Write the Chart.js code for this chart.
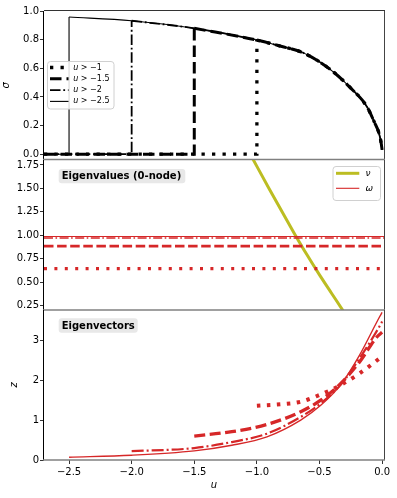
<!DOCTYPE html>
<html>
<head>
<meta charset="utf-8">
<script src="https://cdn.jsdelivr.net/npm/chart.js@4.4.1/dist/chart.umd.min.js"></script>
<style>
html,body{margin:0;padding:0;background:#fff;}
#wrap{position:relative;width:397px;height:498px;}
canvas{position:absolute;left:0;top:0;}
</style>
</head>
<body>
<div id="wrap">
<canvas id="c1" width="397" height="498"></canvas>
<canvas id="c2" width="397" height="498"></canvas>
<canvas id="c3" width="397" height="498"></canvas>
</div>
<script>
Chart.defaults.font.family='"DejaVu Sans",sans-serif';
Chart.defaults.color="#000";
const el=id=>document.getElementById(id);

const U_MIN=-2.7, U_MAX=0.015;
const THRESH=[-1,-1.5,-2,-2.5];
const LEG_TXT=["−1","−1.5","−2","−2.5"];
const X_TICKS=[-2.5,-2,-1.5,-1,-0.5,0];
const S_TICKS=[0,0.2,0.4,0.6,0.8,1];
const W_TICKS=[0.25,0.5,0.75,1,1.25,1.5,1.75];
const Z_TICKS=[0,1,2,3];

// sigma(u)
const U_S=[-2.5,-2.0,-1.5,-1.0,-0.8,-0.65,-0.5,-0.39,-0.26,-0.12,-0.06,-0.03,-0.01,0.0];
const SIGMA=[0.958,0.932,0.879,0.797,0.752,0.715,0.645,0.575,0.47,0.33,0.22,0.16,0.09,0.03];

// eigenvalues
const U_NU=[-1.1,-1.0,-0.9,-0.8,-0.7,-0.6,-0.5,-0.4,-0.3,-0.25];
const NU=[1.98,1.735,1.492,1.253,1.018,0.792,0.578,0.375,0.172,0.07];
const OMEGA=[0.645,0.885,0.972,0.988];

// eigenvectors
const EV_U1=[-1.0,-0.8,-0.65,-0.5,-0.33,-0.18,-0.04,0.0];
const EV_Z1=[1.36,1.40,1.46,1.63,1.88,2.17,2.5,2.6];
const EV_U2=[-1.5,-1.2,-0.92,-0.65,-0.49,-0.33,-0.18,-0.04,0.0];
const EV_Z2=[0.60,0.71,0.89,1.21,1.50,1.92,2.46,3.09,3.2];
const EV_U3=[-2.0,-1.5,-1.2,-0.92,-0.65,-0.49,-0.33,-0.18,-0.03,0.0];
const EV_Z3=[0.22,0.30,0.45,0.66,1.08,1.42,1.89,2.55,3.30,3.47];
const EV_U4=[-2.5,-2.0,-1.5,-1.2,-0.92,-0.65,-0.49,-0.33,-0.18,-0.02,0.0];
const EV_Z4=[0.07,0.12,0.23,0.37,0.58,1.0,1.37,1.89,2.63,3.59,3.70];
const EV_U=[EV_U1,EV_U2,EV_U3,EV_U4], EV_Z=[EV_Z1,EV_Z2,EV_Z3,EV_Z4];

const OLIVE="#bcbd22", RED="#d62728";
// line styles per threshold: dotted, dashed, dash-dot, solid
const ST1=[{w:3.3,d:[3.3,7.2]},{w:3,d:[11.5,5]},{w:1.8,d:[10.5,2.8,1.8,2.8]},{w:1.1,d:[]}];
const ST2=[{w:3.3,d:[3,7.4]},{w:2.7,d:[9.5,3.6]},{w:1.6,d:[9,2.5,1.6,2.5]},{w:1.1,d:[]}];
const ST3=[{w:4,d:[3.5,6.5]},{w:3.3,d:[11,4.5]},{w:2.2,d:[12,3,2,3]},{w:1.4,d:[]}];

const zip=(xs,ys)=>xs.map((x,i)=>({x,y:ys[i]}));
const fmt=d=>v=>v.toFixed(d).replace("-","−");
const line=(data,color,st,smooth)=>({data,borderColor:color,borderWidth:st.w,borderDash:st.d,
  borderCapStyle:"butt",pointRadius:0,fill:false,tension:0,cubicInterpolationMode:smooth?"monotone":"default"});

// frame around the axes
const frame={id:"frame",afterDraw(c){const a=c.chartArea,x=c.ctx;x.save();
  x.lineWidth=1;x.strokeStyle="#000";
  x.beginPath();x.moveTo(a.left-0.5,a.top);x.lineTo(a.left-0.5,a.bottom);x.stroke();
  x.strokeStyle="#444";x.beginPath();x.moveTo(a.right+0.5,a.top);x.lineTo(a.right+0.5,a.bottom);x.stroke();
  if(c.canvas.id==="c1"){x.strokeStyle="#333";x.beginPath();x.moveTo(a.left,a.top-0.5);x.lineTo(a.right+1,a.top-0.5);x.stroke();}
  x.strokeStyle="#808080";x.lineWidth=1.6;x.beginPath();x.moveTo(a.left-1,a.bottom);x.lineTo(a.right+1,a.bottom);x.stroke();
  x.restore();}};

function labelBox(c,txt,x0,y0,w,h){const x=c.ctx;x.save();
  x.fillStyle="#e8e8e8";x.beginPath();x.roundRect(x0,y0,w,h,3);x.fill();
  x.fillStyle="#000";x.font='bold 10px "DejaVu Sans"';x.textBaseline="middle";x.fillText(txt,x0+3,y0+h/2+0.5);
  x.restore();}

function legendBox(x,x0,y0,w,h){x.fillStyle="rgba(255,255,255,0.85)";x.strokeStyle="#d0d0d0";x.lineWidth=1;
  x.beginPath();x.roundRect(x0+0.5,y0+0.5,w,h,3);x.fill();x.stroke();}

function sample(x,ds,x0,x1,y){x.save();x.strokeStyle=ds.borderColor;x.lineWidth=ds.borderWidth;x.setLineDash(ds.borderDash);
  x.lineCap="butt";x.beginPath();x.moveTo(x0,y);x.lineTo(x1,y);x.stroke();x.restore();}

function makeChart(id,o){
  return new Chart(el(id),{type:"line",data:{datasets:o.datasets},
    options:{responsive:false,animation:false,
      layout:{padding:{top:o.top,bottom:o.bottom,left:0,right:13}},
      scales:{
        x:{type:"linear",min:U_MIN,max:U_MAX,display:o.showX,
          afterFit:s=>{s.height=o.showX?38:0;},
          afterBuildTicks:s=>{s.ticks=X_TICKS.map(v=>({value:v}));},
          grid:{drawOnChartArea:false,drawTicks:true,tickLength:4,color:"#000",lineWidth:0.8},border:{display:false},
          ticks:{font:{size:10},padding:2,maxRotation:0,callback:fmt(1)},
          title:{display:true,text:"u",font:{size:10,style:"italic"},padding:{top:0,bottom:7}}},
        y:{type:"linear",min:o.yMin,max:o.yMax,
          afterFit:s=>{s.width=44;},
          afterBuildTicks:s=>{s.ticks=o.yTicks.map(v=>({value:v}));},
          grid:{drawOnChartArea:false,drawTicks:true,tickLength:4,color:"#000",lineWidth:0.8},border:{display:false},
          ticks:{font:{size:10},padding:1,callback:fmt(o.dec)},
          title:{display:!!o.yTitle,text:o.yTitle||"",font:{size:10,style:"italic"},padding:{top:o.tPad,bottom:0}}}},
      plugins:{legend:{display:false},tooltip:{enabled:false}}},
    plugins:[frame,{id:"extra",afterDraw:c=>o.extra&&o.extra(c)}]});
}

// panel 1: sigma
const ds1=[];
THRESH.forEach((t,i)=>{
  const k=U_S.indexOf(t);
  const step=[{x:U_MIN,y:0},{x:t,y:0},{x:t,y:SIGMA[k]}];
  const curve=zip(U_S.slice(k),SIGMA.slice(k));
  ds1.push(line(step,"#000",ST1[i],false));
  ds1.push(line(curve,"#000",ST1[i],true));
});
makeChart("c1",{top:11,bottom:338.5,yMin:-0.037,yMax:1.0,yTicks:S_TICKS,dec:1,yTitle:"σ",tPad:0.7,showX:false,
  datasets:ds1.reverse(),
  extra:c=>{const x=c.ctx;x.save();legendBox(x,47,61,66.5,47.5);
    THRESH.forEach((t,i)=>{const y=67.5+i*11.3;sample(x,{borderColor:"#000",borderWidth:ST1[i].w,borderDash:ST1[i].d},50,68.5,y);
      x.fillStyle="#000";x.textBaseline="middle";x.font='italic 8px "DejaVu Sans"';x.fillText("u",73.3,y);
      x.font='8px "DejaVu Sans"';x.fillText(" > "+LEG_TXT[i],78.3,y);});
    x.restore();}});

// panel 2: eigenvalues
const ds2=[line(zip(U_NU,NU),OLIVE,{w:3,d:[]},true)];
OMEGA.forEach((w,i)=>ds2.push(line([{x:U_MIN,y:w},{x:U_MAX,y:w}],RED,ST2[i],false)));
makeChart("c2",{top:160,bottom:188,yMin:0.204,yMax:1.803,yTicks:W_TICKS,dec:2,showX:false,
  datasets:ds2.slice(1).reverse().concat(ds2.slice(0,1)),
  extra:c=>{labelBox(c,"Eigenvalues (0-node)",58.7,169,126.6,14.3);
    const x=c.ctx;x.save();legendBox(x,332.5,166,47.5,34);
    sample(x,{borderColor:OLIVE,borderWidth:3,borderDash:[]},336,359.3,173.3);
    sample(x,{borderColor:RED,borderWidth:1.1,borderDash:[]},336,359.3,188.3);
    x.fillStyle="#000";x.textBaseline="middle";x.font='italic 9px "DejaVu Sans"';
    x.fillText("ν",365.5,173.3);x.fillText("ω",365.5,188.3);x.restore();}});

// panel 3: eigenvectors
const ds3=THRESH.map((t,i)=>line(zip(EV_U[i],EV_Z[i]),RED,ST3[i],true));
makeChart("c3",{top:310,bottom:0,yMin:0,yMax:3.76,yTicks:Z_TICKS,dec:0,yTitle:"z",tPad:8.7,showX:true,
  datasets:ds3.reverse(),
  extra:c=>labelBox(c,"Eigenvectors",58.7,318.3,79,14.4)});
</script>
</body>
</html>
